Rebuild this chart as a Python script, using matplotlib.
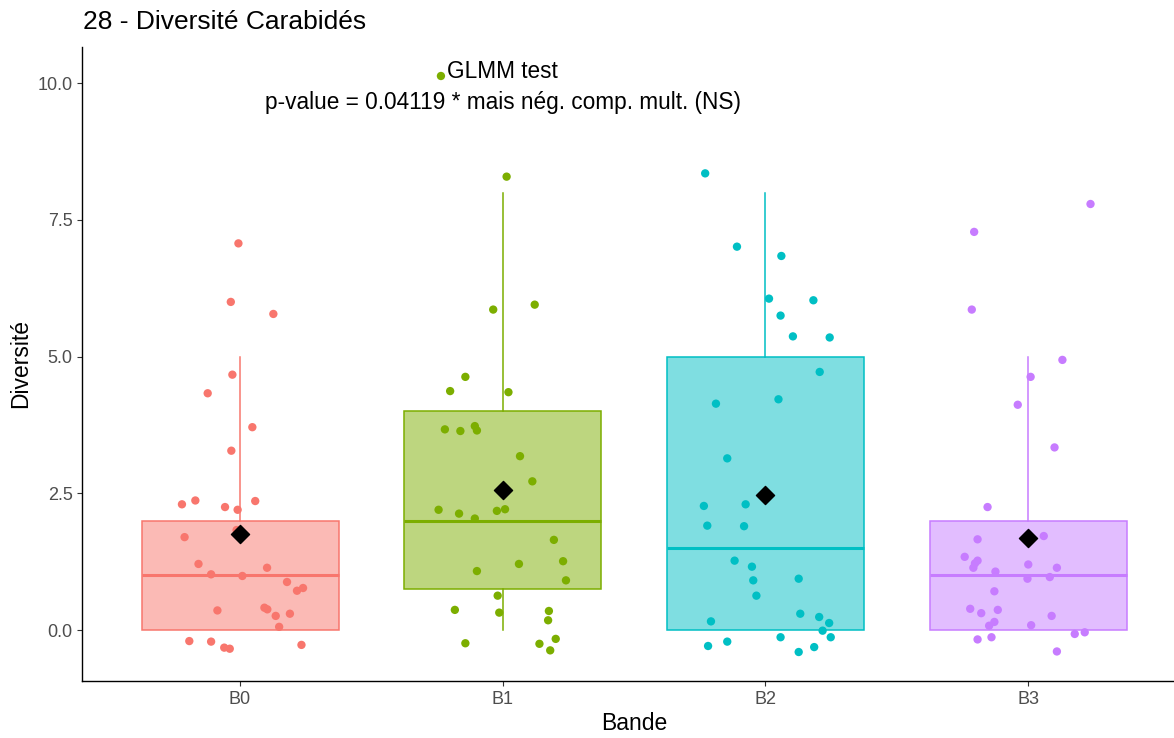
import numpy as np
import matplotlib as mpl

mpl.use('agg')

import matplotlib.pyplot as plt

plt.rcParams['font.family'] = ['Liberation Sans', 'DejaVu Sans']

bandes = ["B0", "B1", "B2", "B3"]
couleurs = ["#F8766D", "#7CAE00", "#00BFC4", "#C77CFF"]

# jittered points: horizontal offset from the band centre and plotted height
b0_dx = [-0.006, -0.035, 0.127, -0.029, -0.123, 0.047, -0.033, -0.221,
         -0.170, -0.057, -0.009, 0.058, -0.013, -0.211, -0.158, -0.110,
         0.009, 0.103, 0.179, 0.217, 0.240, -0.086, 0.093, 0.104,
         0.136, 0.190, 0.149, -0.193, -0.110, -0.060, -0.039, 0.234]
b0_y = [7.07, 6.00, 5.78, 4.67, 4.33, 3.71, 3.28, 2.30,
        2.37, 2.25, 2.20, 2.36, 1.83, 1.70, 1.21, 1.02,
        0.99, 1.14, 0.88, 0.72, 0.77, 0.36, 0.41, 0.38,
        0.26, 0.30, 0.06, -0.20, -0.21, -0.32, -0.34, -0.27]

b1_dx = [0.015, -0.036, 0.122, -0.142, -0.200, 0.022, -0.220, -0.161,
         -0.106, -0.098, 0.066, 0.113, -0.244, -0.166, -0.106, -0.022,
         0.009, 0.195, 0.230, 0.062, -0.098, 0.241, -0.019, -0.182,
         -0.013, 0.176, 0.173, -0.142, 0.140, 0.202, 0.181, -0.235]
b1_y = [8.29, 5.86, 5.95, 4.63, 4.37, 4.35, 3.67, 3.64,
        3.73, 3.65, 3.18, 2.72, 2.20, 2.13, 2.04, 2.18,
        2.21, 1.65, 1.26, 1.21, 1.08, 0.91, 0.63, 0.37,
        0.32, 0.35, 0.18, -0.24, -0.25, -0.16, -0.37, 10.13]

b2_dx = [-0.229, -0.108, 0.061, 0.014, 0.183, 0.058, 0.105, 0.245,
         0.207, -0.188, 0.050, -0.145, -0.234, -0.075, -0.221, -0.081,
         -0.117, -0.051, -0.046, -0.034, 0.127, -0.207, 0.133, 0.205,
         0.243, 0.218, 0.249, -0.218, -0.145, 0.058, 0.127, 0.186]
b2_y = [8.35, 7.01, 6.84, 6.06, 6.03, 5.75, 5.37, 5.35,
        4.72, 4.14, 4.22, 3.14, 2.27, 2.30, 1.91, 1.90,
        1.27, 1.16, 0.91, 0.63, 0.94, 0.16, 0.30, 0.24,
        0.13, -0.01, -0.13, -0.29, -0.21, -0.13, -0.40, -0.31]

b3_dx = [0.238, -0.205, -0.214, 0.131, 0.010, -0.039, 0.101, -0.154,
         -0.192, 0.060, -0.241, -0.192, -0.208, -0.124, 0.001, 0.110,
         -0.002, 0.083, -0.128, -0.220, -0.178, -0.115, 0.090, -0.128,
         -0.148, 0.012, 0.178, 0.216, -0.192, -0.139, 0.110, -0.202]
b3_y = [7.79, 7.28, 5.86, 4.94, 4.63, 4.12, 3.34, 2.25,
        1.66, 1.72, 1.34, 1.27, 1.14, 1.07, 1.20, 1.14,
        0.94, 0.97, 0.71, 0.39, 0.31, 0.37, 0.26, 0.15,
        0.08, 0.09, -0.07, -0.04, -0.17, -0.13, -0.39, 1.22]

all_dx = [b0_dx, b1_dx, b2_dx, b3_dx]
all_y = [b0_y, b1_y, b2_y, b3_y]
# the diversity counts are whole numbers, the points are only jittered
valeurs = [np.rint(y) for y in all_y]

fig = plt.figure(figsize=(11.74, 7.38), dpi=100)
ax = fig.add_axes([82.4 / 1174, 57 / 738, 1103.2 / 1174, 634 / 738])

pos = np.arange(1, len(bandes) + 1)
bp = ax.boxplot(valeurs, positions=pos, widths=0.75, patch_artist=True,
                showfliers=False, showcaps=False, whis=1.5)

for i, c in enumerate(couleurs):
    bp['boxes'][i].set_facecolor(mpl.colors.to_rgba(c, 0.5))
    bp['boxes'][i].set_edgecolor(c)
    bp['boxes'][i].set_linewidth(1.1)
    bp['medians'][i].set_color(c)
    bp['medians'][i].set_linewidth(2.2)
    for w in bp['whiskers'][2 * i:2 * i + 2]:
        w.set_color(c)
        w.set_linewidth(1.1)

for i, c in enumerate(couleurs):
    ax.scatter(pos[i] + np.array(all_dx[i]), all_y[i], s=36, color=c,
               edgecolors='none', zorder=3)

moyennes = [v.mean() for v in valeurs]
ax.scatter(pos, moyennes, marker='D', s=85, color='black', zorder=4)

ax.text(2, 9.93, "GLMM test\np-value = 0.04119 * mais nég. comp. mult. (NS)",
        ha='center', va='center', multialignment='center', fontsize=16.3,
        linespacing=1.45)

ax.set_xlim(0.4, 4.6)
ax.set_ylim(-0.93, 10.66)
ax.set_xticks(pos)
ax.set_xticklabels(bandes)
ax.set_yticks([0, 2.5, 5, 7.5, 10])
ax.set_yticklabels(["0.0", "2.5", "5.0", "7.5", "10.0"])
ax.tick_params(colors='#333333', labelcolor='#4D4D4D', labelsize=13,
               length=3.5, width=0.8)

for s in ['top', 'right']:
    ax.spines[s].set_visible(False)
for s in ['left', 'bottom']:
    ax.spines[s].set_linewidth(1.0)

ax.set_xlabel("Bande", fontsize=16.5, labelpad=3)
ax.set_ylabel("Diversité", fontsize=16.5, labelpad=4)

fig.text(83 / 1174, 1 - 22 / 738, "28 - Diversité Carabidés", fontsize=19,
         ha='left', va='center')

fig.savefig('out.png', dpi=100)
